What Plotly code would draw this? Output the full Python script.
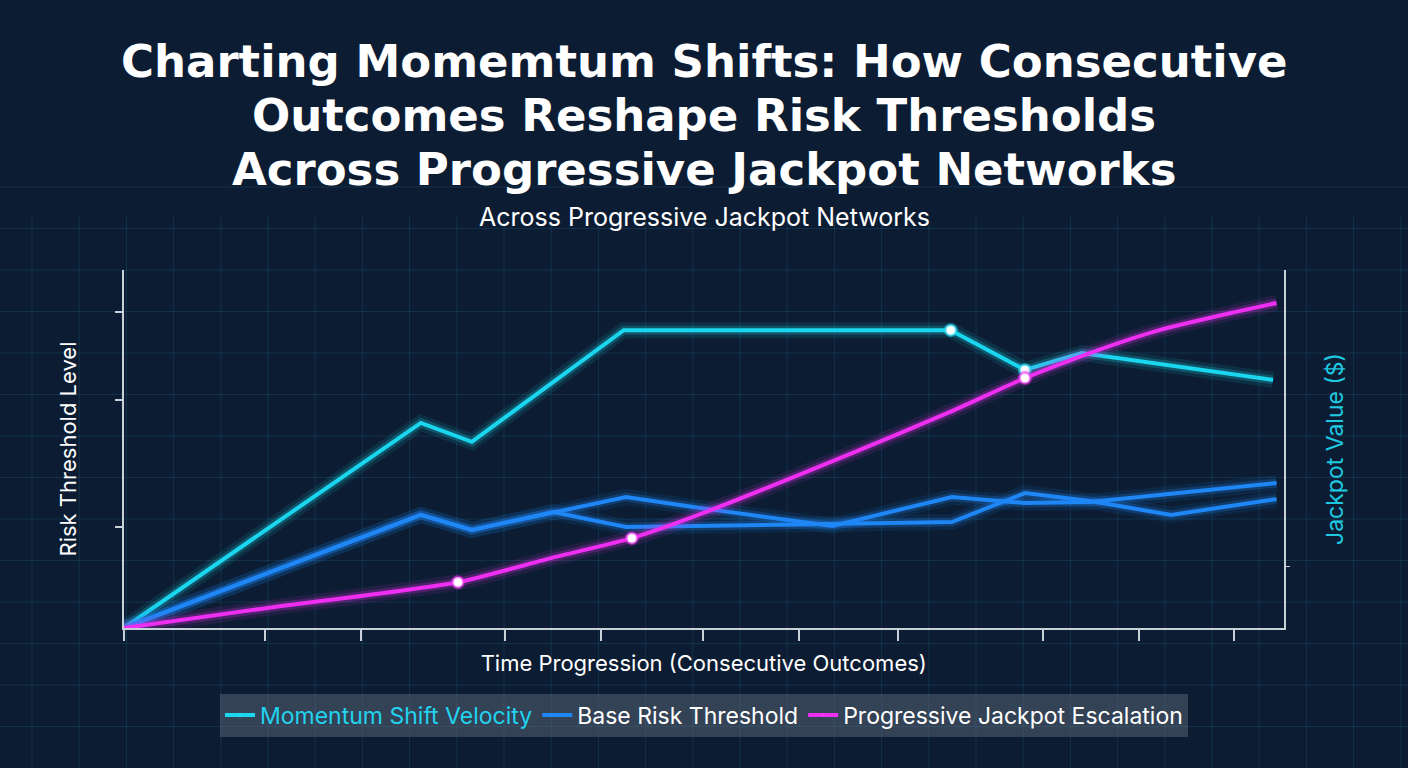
import plotly.graph_objects as go

W, H = 1408, 768

# ---------------- data ----------------
title_lines = ["Charting Momemtum Shifts: How Consecutive",
               "Outcomes Reshape Risk Thresholds",
               "Across Progressive Jackpot Networks"]
subtitle = "Across Progressive Jackpot Networks"

momentum_x = [0, 25.6, 30.0, 43.1, 71.3, 77.7, 82.6, 91.1, 99.1]
momentum_y = [0, 57.3, 52.0, 83.2, 83.2, 72.1, 76.8, 72.9, 69.3]
momentum_marked = [0, 0, 0, 0, 1, 1, 0, 0, 0]

base_a_x = [0, 25.6, 30.0, 37.0, 43.3, 49.7, 71.4, 77.7, 83.3, 90.3, 99.4]
base_a_y = [0, 31.6, 27.4, 32.4, 28.2, 28.5, 29.6, 37.7, 35.5, 31.6, 36.0]
base_b_x = [0, 25.6, 30.0, 43.3, 49.7, 61.1, 71.4, 77.7, 83.3, 99.4]
base_b_y = [0, 31.6, 27.4, 36.6, 33.5, 28.5, 36.6, 34.9, 35.2, 40.5]

jackpot_x = [0, 12.4, 28.8, 36.9, 43.8, 49.7, 62.9, 71.2, 77.7, 83.3, 89.3, 95.9, 99.4]
jackpot_y = [0, 5.6, 12.8, 19.6, 25.1, 31.8, 49.0, 60.3, 69.8, 76.8, 83.2, 88.3, 90.8]
jackpot_marked = [0, 0, 1, 0, 1, 0, 0, 0, 1, 0, 0, 0, 0]

x_ticks = [0, 12.17, 20.45, 32.87, 41.16, 49.96, 58.24, 66.78, 79.29, 87.58, 95.69]
y_left_ticks = [28.2, 63.7, 88.3]
y_right_ticks = [17.3]

CYAN = (26, 214, 239)
BLUE = (30, 134, 245)
MAGENTA = (238, 46, 240)


def rgba(c, a=1.0):
    return f"rgba({c[0]},{c[1]},{c[2]},{a})"


fig = go.Figure()


def glow_line(x, y, color, yaxis="y", shape="linear"):
    for w, op in [(16, 0.10), (9, 0.22)]:
        fig.add_trace(go.Scatter(
            x=x, y=y, mode="lines", yaxis=yaxis, showlegend=False, hoverinfo="skip",
            line=dict(color=rgba(color, op), width=w, shape=shape, smoothing=0.6)))


# Momentum
glow_line(momentum_x, momentum_y, CYAN)
fig.add_trace(go.Scatter(
    x=momentum_x, y=momentum_y, mode="lines+markers",
    name="<span style='color:#22d3ee'>Momentum Shift Velocity</span>",
    line=dict(color=rgba(CYAN), width=4),
    marker=dict(size=[11 if m else 0 for m in momentum_marked], color="white",
                opacity=[1 if m else 0 for m in momentum_marked],
                line=dict(color=rgba(CYAN, 0.6), width=3)),
    legendgroup="m"))

# Base risk threshold (two traces)
glow_line(base_a_x, base_a_y, BLUE)
glow_line(base_b_x, base_b_y, BLUE)
fig.add_trace(go.Scatter(
    x=base_a_x, y=base_a_y, mode="lines", name="Base Risk Threshold",
    line=dict(color=rgba(BLUE), width=4), legendgroup="b"))
fig.add_trace(go.Scatter(
    x=base_b_x, y=base_b_y, mode="lines", name="Base Risk Threshold",
    line=dict(color=rgba(BLUE), width=4), legendgroup="b", showlegend=False))

# Jackpot (right axis)
glow_line(jackpot_x, jackpot_y, MAGENTA, yaxis="y2", shape="spline")
fig.add_trace(go.Scatter(
    x=jackpot_x, y=jackpot_y, mode="lines+markers", yaxis="y2",
    name="Progressive Jackpot Escalation",
    line=dict(color=rgba(MAGENTA), width=4, shape="spline", smoothing=0.6),
    marker=dict(size=[11 if m else 0 for m in jackpot_marked], color="white",
                opacity=[1 if m else 0 for m in jackpot_marked],
                line=dict(color=rgba(MAGENTA, 0.55), width=3)),
    legendgroup="j"))

# ---------------- background decoration (grid) ----------------
shapes = []
gx = 32.0
while gx < W:
    shapes.append(dict(type="line", xref="paper", yref="paper", layer="below",
                       x0=gx / W, x1=gx / W, y0=0, y1=0.72,
                       line=dict(color="rgba(45,130,160,0.20)", width=1)))
    gx += 47.2
gy = 270.0 - 41.5 * 2
while gy < H:
    shapes.append(dict(type="line", xref="paper", yref="paper", layer="below",
                       x0=0, x1=1, y0=1 - gy / H, y1=1 - gy / H,
                       line=dict(color="rgba(45,130,160,0.20)", width=1)))
    gy += 41.5

annotations = []
for txt, yc in zip(title_lines, [62, 116, 170]):
    annotations.append(dict(
        text=txt, xref="paper", yref="paper", x=0.5, y=1 - yc / H,
        xanchor="center", yanchor="middle", showarrow=False,
        font=dict(family="DejaVu Sans", size=45, color="white", weight=700)))
annotations.append(dict(
    text=subtitle, xref="paper", yref="paper",
    x=0.5, y=1 - 217 / H, xanchor="center", yanchor="middle", showarrow=False,
    font=dict(family="Inter", size=25, color="white")))

fig.update_layout(
    width=W, height=H, autosize=False,
    margin=dict(l=0, r=0, t=0, b=0),
    paper_bgcolor="#0c1d33",
    plot_bgcolor="rgba(0,0,0,0)",
    shapes=shapes,
    annotations=annotations,
    xaxis=dict(
        domain=[124 / W, 1283.5 / W], range=[0, 100], showgrid=False, zeroline=False,
        showline=True, linecolor="#c8d0d8", linewidth=2,
        tickmode="array", tickvals=x_ticks, showticklabels=False,
        ticks="outside", ticklen=11, tickwidth=2, tickcolor="#c8d0d8",
        title=dict(text="Time Progression (Consecutive Outcomes)", standoff=16,
                   font=dict(family="Inter", size=22, color="white")),
        automargin=False,
    ),
    yaxis=dict(
        domain=[1 - 628 / H, 1 - 270 / H], range=[0, 100], showgrid=False, zeroline=False,
        showline=True, linecolor="#c8d0d8", linewidth=2,
        tickmode="array", tickvals=y_left_ticks, showticklabels=False,
        ticks="outside", ticklen=7, tickwidth=2, tickcolor="#c8d0d8",
        title=dict(text="Risk Threshold Level", standoff=32,
                   font=dict(family="Inter", size=22, color="white")),
        automargin=False,
    ),
    yaxis2=dict(
        domain=[1 - 628 / H, 1 - 270 / H], range=[0, 100], overlaying="y", side="right",
        showgrid=False, zeroline=False,
        showline=True, linecolor="#c8d0d8", linewidth=2,
        tickmode="array", tickvals=y_right_ticks, showticklabels=False,
        ticks="outside", ticklen=4, tickwidth=1, tickcolor="#c8d0d8",
        title=dict(text="Jackpot Value ($)", standoff=38,
                   font=dict(family="Inter", size=23, color="#1ec8e0")),
        automargin=False,
    ),
    legend=dict(
        orientation="h", x=0.5, xanchor="center", y=1 - 715 / H, yanchor="middle",
        bgcolor="rgba(110,120,135,0.42)", borderwidth=0,
        font=dict(family="Inter", size=23, color="white"),
        itemwidth=30, traceorder="normal",
    ),
    showlegend=True,
)

fig.write_html("out.html")
